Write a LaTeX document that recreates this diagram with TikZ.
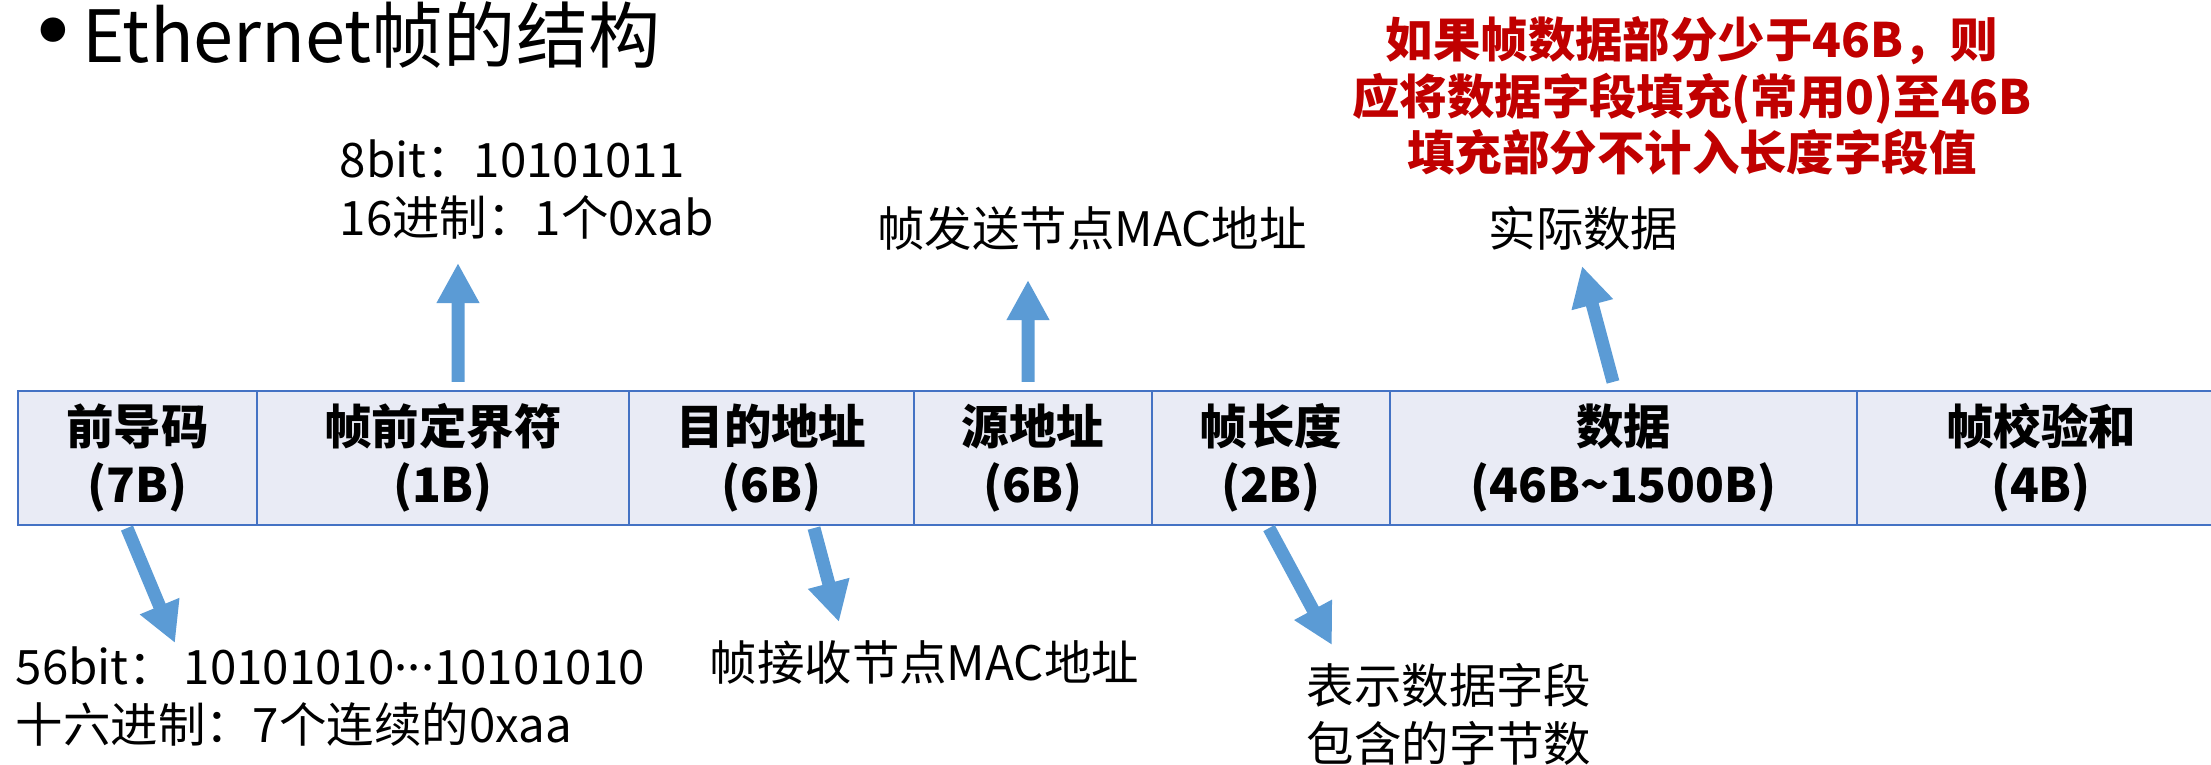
\documentclass[tikz,border=0pt]{standalone}
\usepackage{fontspec}
\setmainfont{Noto Sans CJK SC}
\newfontfamily\dejavu{DejaVu Sans}
\usetikzlibrary{arrows.meta}

\definecolor{cellfill}{HTML}{E9EBF5}
\definecolor{cellline}{HTML}{4472C4}
\definecolor{arrowblue}{HTML}{5B9BD5}
\definecolor{notered}{HTML}{C00000}

\begin{document}
\begin{tikzpicture}[
    cell/.style={draw=cellline, line width=0.6pt, fill=cellfill, minimum height=1.34cm, inner sep=0pt, align=center, font=\fontsize{13.5}{16.5}\selectfont\bfseries},
    info/.style={inner sep=0pt, align=left, font=\fontsize{13.5}{16.5}\selectfont},
    note/.style={inner sep=0pt, align=center, text=notered, font=\fontsize{13.5}{16}\selectfont\bfseries},
    fat/.style={arrowblue, line width=1.3mm, -{Triangle[width=4mm, length=4mm]}}
  ]
  \useasboundingbox (0,0) rectangle (22.11,-7.64);
  % \draw[step=1,gray,very thin] (0,0) grid (22.11,-7.64);

  \node[inner sep=0pt, anchor=base west, font=\fontsize{20.5}{24}\selectfont] (title) at (0.275,-0.62) {\raisebox{0.1mm}{\dejavu\fontsize{24}{24}\selectfont•}\hspace{0.45mm}Ethernet帧的结构};

  % frame fields
  \node[cell, minimum width=2.39cm] (pre) at (1.375,-4.58) {前导码\\(7B)};
  \node[cell, minimum width=3.72cm] (sfd) at (4.43,-4.58) {帧前定界符\\(1B)};
  \node[cell, minimum width=2.85cm] (dst) at (7.715,-4.58) {目的地址\\(6B)};
  \node[cell, minimum width=2.38cm] (src) at (10.33,-4.58) {源地址\\(6B)};
  \node[cell, minimum width=2.38cm] (len) at (12.71,-4.58) {帧长度\\(2B)};
  \node[cell, minimum width=4.67cm] (data) at (16.235,-4.58) {数据\\(46B\textasciitilde 1500B)};
  \node[cell, minimum width=3.68cm] (fcs) at (20.41,-4.58) {帧校验和\\(4B)};

  % notes above and below
  \node[info, anchor=west] (sfdinfo) at (3.39,-1.895) {8bit：10101011\\16进制：1个0xab};
  \node[info] (srcinfo) at (10.92,-2.28) {帧发送节点MAC地址};
  \node[info] (datainfo) at (15.835,-2.28) {实际数据};
  \node[note] (padnote) at (16.92,-0.96) {如果帧数据部分少于46B，则\\应将数据字段填充(常用0)至46B\\填充部分不计入长度字段值};
  \node[info, anchor=west] (preinfo) at (0.15,-6.965) {56bit：\,10101010\raisebox{0.3em}{...}10101010\\十六进制：7个连续的0xaa};
  \node[info, anchor=west] (dstinfo) at (7.09,-6.62) {帧接收节点MAC地址};
  \node[info, anchor=west] (leninfo) at (13.06,-7.145) {表示数据字段\\包含的字节数};

  \coordinate (sfdtip) at (4.58,-2.63);
  \coordinate (srctip) at (10.28,-2.80);
  \coordinate (datatip) at (15.82,-2.66);
  \coordinate (pretip) at (1.75,-6.43);
  \coordinate (dsttip) at (8.39,-6.22);
  \coordinate (lentip) at (13.32,-6.45);

  \draw[fat] ([xshift=1.5mm, yshift=0.8mm]sfd.north) -- (sfdtip);
  \draw[fat] ([xshift=-0.5mm, yshift=0.8mm]src.north) -- (srctip);
  \draw[fat] ([xshift=-1.05mm, yshift=0.8mm]data.north) -- (datatip);
  \draw[fat] ([xshift=-1.05mm, yshift=-0.2mm]pre.south) -- (pretip);
  \draw[fat] ([xshift=4.25mm, yshift=-0.2mm]dst.south) -- (dsttip);
  \draw[fat] ([xshift=-0.2mm, yshift=-0.2mm]len.south) -- (lentip);
\end{tikzpicture}
\end{document}
